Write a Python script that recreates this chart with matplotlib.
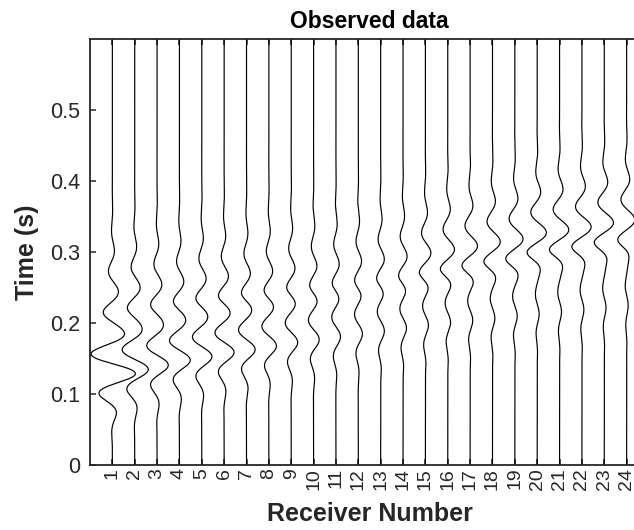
import numpy as np
import matplotlib
matplotlib.use("Agg")
import matplotlib.pyplot as plt

plt.rcParams['font.family'] = ['Liberation Sans', 'DejaVu Sans']

# receiver numbers
receivers = list(range(1, 25))

# early event: time of the right-hand peak (s) and amplitude (trace spacings)
early_peak_time = [0.128, 0.134, 0.140, 0.147, 0.152, 0.158, 0.162, 0.167,
                   0.172, 0.176, 0.180, 0.184, 0.188, 0.192, 0.196, 0.200,
                   0.203, 0.206, 0.209, 0.212, 0.215, 0.218, 0.221, 0.224]
early_amp = [1.07, 0.63, 0.52, 0.50, 0.47, 0.46, 0.40, 0.35, 0.30, 0.26,
             0.21, 0.19, 0.17, 0.16, 0.14, 0.13, 0.12, 0.11, 0.11, 0.09,
             0.09, 0.09, 0.08, 0.07]

# later event
late_peak_time = [0.245, 0.251, 0.255, 0.259, 0.263, 0.266, 0.270, 0.273,
                  0.277, 0.280, 0.283, 0.287, 0.290, 0.294, 0.299, 0.304,
                  0.309, 0.315, 0.319, 0.328, 0.332, 0.336, 0.342, 0.346]
late_amp = [0.27, 0.25, 0.22, 0.20, 0.20, 0.20, 0.18, 0.18, 0.18, 0.16,
            0.16, 0.16, 0.18, 0.20, 0.27, 0.33, 0.36, 0.38, 0.40, 0.45,
            0.45, 0.45, 0.45, 0.40]

freq = 17.0  # Hz


def wavelet(t, tp, amp, shift, w_pre, w_post):
    tc = tp + shift
    w = np.where(t < tc, w_pre, w_post)
    return amp * np.exp(-((t - tc) / w) ** 2) * np.cos(2 * np.pi * freq * (t - tp))


t = np.linspace(0, 0.6, 1201)

fig = plt.figure(figsize=(6.34, 5.30), dpi=100)
ax = fig.add_axes([90 / 634, 65 / 530, 559 / 634, 426 / 530])

for i, r in enumerate(receivers):
    trace = (wavelet(t, early_peak_time[i], early_amp[i], 0.010, 0.05, 0.055)
             + wavelet(t, late_peak_time[i], late_amp[i], -0.025, 0.025, 0.08))
    ax.plot(r + trace, t, color='black', lw=0.85)

ax.set_xlim(0, 25)
ax.set_ylim(0, 0.6)

ax.set_xticks(receivers)
ax.set_xticklabels([str(r) for r in receivers], rotation=90)
yt = [0, 0.1, 0.2, 0.3, 0.4, 0.5]
ax.set_yticks(yt)
ax.set_yticklabels([f"{v:g}" for v in yt])

ax.tick_params(direction='in', length=4.5, width=1.1, top=True, right=True,
               labelsize=15.5, colors='#262626')
ax.tick_params(axis='x', pad=2, labelsize=14)
ax.tick_params(axis='y', pad=7)
for s in ax.spines.values():
    s.set_linewidth(1.3)
    s.set_color('#262626')

ax.set_title('Observed data', fontsize=16.5, fontweight='bold', pad=8)
ax.set_xlabel('Receiver Number', fontsize=18, fontweight='bold',
              color='#262626', labelpad=9)
ax.set_ylabel('Time (s)', fontsize=18, fontweight='bold',
              color='#262626', labelpad=8)

fig.savefig('out.png', dpi=100)
